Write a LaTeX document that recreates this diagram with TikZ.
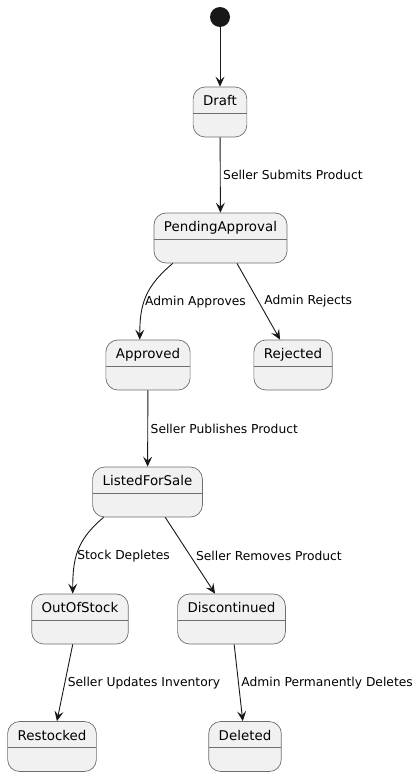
\documentclass[tikz,border=0pt]{standalone}
\usepackage{fontspec}
\setmainfont{DejaVu Sans}
\usetikzlibrary{arrows.meta}
\definecolor{statefill}{HTML}{F1F1F1}
\definecolor{stateline}{HTML}{6E6E6E}
\definecolor{edgeline}{HTML}{181818}

\begin{document}
\begin{tikzpicture}[x=1pt, y=1pt, state/.style={draw=stateline, fill=statefill, line width=0.7pt, rounded corners=12pt, inner xsep=10pt, inner ysep=0pt, text height=18.5pt, text depth=31.5pt, font=\fontsize{13.4}{16}\selectfont, path picture={\draw[stateline, line width=0.7pt] ([yshift=-26pt]path picture bounding box.north west) -- ([yshift=-26pt]path picture bounding box.north east);}}, start/.style={circle, fill=edgeline, minimum size=20pt, inner sep=0pt}, n/.style={-{Stealth[length=10pt, width=9pt, inset=4pt]}, line width=0.9pt, draw=edgeline}, lbl/.style={anchor=west, inner sep=2.5pt, font=\fontsize{12.3}{14}\selectfont}]
            \useasboundingbox (0,0) rectangle (420,-776);
            % nodes
            \node[start] (init) at (220,-17) {};
            \node[state] (draft) at (220,-112) {Draft};
            \node[state] (pending) at (220.5,-238) {PendingApproval};
            \node[state] (approved) at (148,-365) {Approved};
            \node[state] (rejected) at (293,-365) {Rejected};
            \node[state] (listed) at (147.5,-492) {ListedForSale};
            \node[state] (outofstock) at (80,-619) {OutOfStock};
            \node[state] (discont) at (231.5,-619) {Discontinued};
            \node[state] (restocked) at (52,-746.5) {Restocked};
            \node[state] (deleted) at (245,-746.5) {Deleted};
            % edges
            \draw [n] (init) -- (draft);
            \draw [n] (draft) -- (pending) node[lbl, midway] (l1) {Seller Submits Product};
            \draw [n] (pending.-152) to[out=220, in=90, looseness=1.1] node[lbl, pos=0.57, xshift=-2pt] (l2) {Admin Approves} (approved.108);
            \draw [n] (pending.-57) -- (rejected.117) node[lbl, midway, xshift=3pt] (l3) {Admin Rejects};
            \draw [n] (approved) -- (listed) node[lbl, midway] (l4) {Seller Publishes Product};
            \draw [n] (listed.-150) to[out=220, in=90, looseness=1.1] node[lbl, pos=0.57, xshift=-2pt] (l5) {Stock Depletes} (outofstock.106);
            \draw [n] (listed.-55) -- (discont.123) node[lbl, midway, xshift=3pt] (l6) {Seller Removes Product};
            \draw [n] (outofstock.-106) -- (restocked.79) node[lbl, midway] (l7) {Seller Updates Inventory};
            \draw [n] (discont.-84) -- (deleted.95) node[lbl, midway] (l8) {Admin Permanently Deletes};
        \end{tikzpicture}
\end{document}
